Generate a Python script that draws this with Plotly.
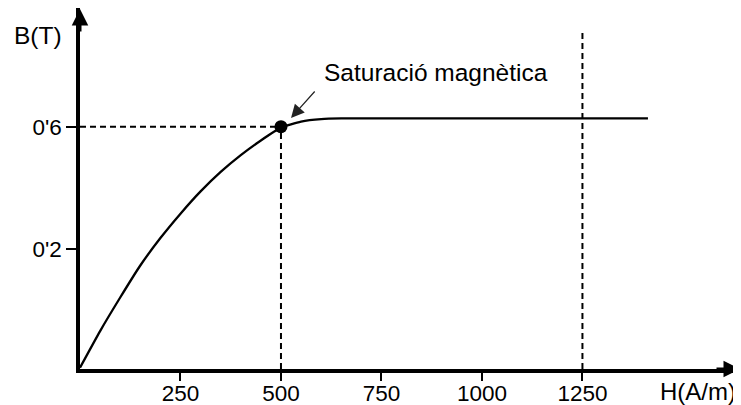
import plotly.graph_objects as go

# B-H curve (H in A/m, B in T)
H_curve = [0, 50, 100, 150, 200, 250, 300, 350, 400, 450, 500, 550, 600, 650, 800, 1000, 1200, 1413]
B_curve = [-0.19, -0.07, 0.04, 0.145, 0.235, 0.315, 0.388, 0.452, 0.507, 0.555, 0.597, 0.617, 0.625, 0.627, 0.627, 0.627, 0.627, 0.627]

sat_H = [500]
sat_B = [0.6]

x_tickvals = [250, 500, 750, 1000, 1250]
x_ticktext = ["250", "500", "750", "1000", "1250"]
y_tickvals = [0.2, 0.6]
y_ticktext = ["0'2", "0'6"]

x_range = [0, 1642]
y_range = [-0.1944, 0.9892]
ref_line_H = 1250
ref_line_top = 0.913

FONT = "Liberation Sans, Arial, sans-serif"

# page body has an 8px margin: figure is drawn 8px smaller and offset
W, H = 733, 397
ml, mr, mt, mb = 72, 1, 0, 36
pw, ph = W - ml - mr, H - mt - mb

fig = go.Figure()

dash = dict(color="black", width=2, dash="6px,4px")
fig.add_trace(go.Scatter(x=[x_range[0], sat_H[0]], y=[sat_B[0], sat_B[0]], mode="lines", line=dash, hoverinfo="skip"))
fig.add_trace(go.Scatter(x=[sat_H[0], sat_H[0]], y=[y_range[0], sat_B[0]], mode="lines", line=dash, hoverinfo="skip"))
fig.add_trace(go.Scatter(x=[ref_line_H, ref_line_H], y=[y_range[0], ref_line_top], mode="lines", line=dash, hoverinfo="skip"))

fig.add_trace(go.Scatter(x=H_curve, y=B_curve, mode="lines",
                         line=dict(color="black", width=2.3, shape="spline", smoothing=0.5), hoverinfo="skip"))
fig.add_trace(go.Scatter(x=sat_H, y=sat_B, mode="markers", marker=dict(color="black", size=13), hoverinfo="skip"))

axis_common = dict(showline=True, linecolor="black", linewidth=3.5, showgrid=False, zeroline=False,
                   ticks="outside", tickwidth=2, tickcolor="black", automargin=False,
                   tickfont=dict(family=FONT, size=22.5, color="black"))

fig.update_xaxes(range=x_range, tickvals=x_tickvals, ticktext=x_ticktext, ticklen=8,
                 ticklabelstandoff=-7, **axis_common)
fig.update_yaxes(range=y_range, tickvals=y_tickvals, ticktext=y_ticktext, ticklen=10, **axis_common)


def px(x, y):
    return dict(x=(x - ml) / pw, y=1 - (y - mt) / ph, xref="paper", yref="paper")


annotations = [
    dict(x=1, y=0, xref="paper", yref="paper", ax=-25, ay=0, text="", showarrow=True,
         arrowhead=2, arrowsize=1.1, arrowwidth=3, arrowcolor="black"),
    dict(x=0, y=1, xref="paper", yref="paper", ax=0, ay=25, text="", showarrow=True,
         arrowhead=2, arrowsize=1.1, arrowwidth=3, arrowcolor="black"),
    dict(**px(29.5, 27.6), text="B(T)", showarrow=False, xanchor="center", yanchor="middle",
         font=dict(family=FONT, size=24.5, color="black")),
    dict(**px(690, 383.5), text="H(A/m)", showarrow=False, xanchor="center", yanchor="middle",
         font=dict(family=FONT, size=24, color="black")),
    dict(x=525, y=0.6285, xref="x", yref="y", ax=25, ay=-28, text="", showarrow=True,
         arrowhead=2, arrowsize=2.2, arrowwidth=1.2, arrowcolor="#222"),
    dict(x=885, y=0.779, xref="x", yref="y", text="Saturació magnètica", showarrow=False,
         font=dict(family=FONT, size=24.5, color="black")),
]

fig.update_layout(width=W, height=H, margin=dict(l=ml, r=mr, t=mt, b=mb),
                  plot_bgcolor="white", paper_bgcolor="white", showlegend=False,
                  annotations=annotations)

fig.write_html("out.html")
